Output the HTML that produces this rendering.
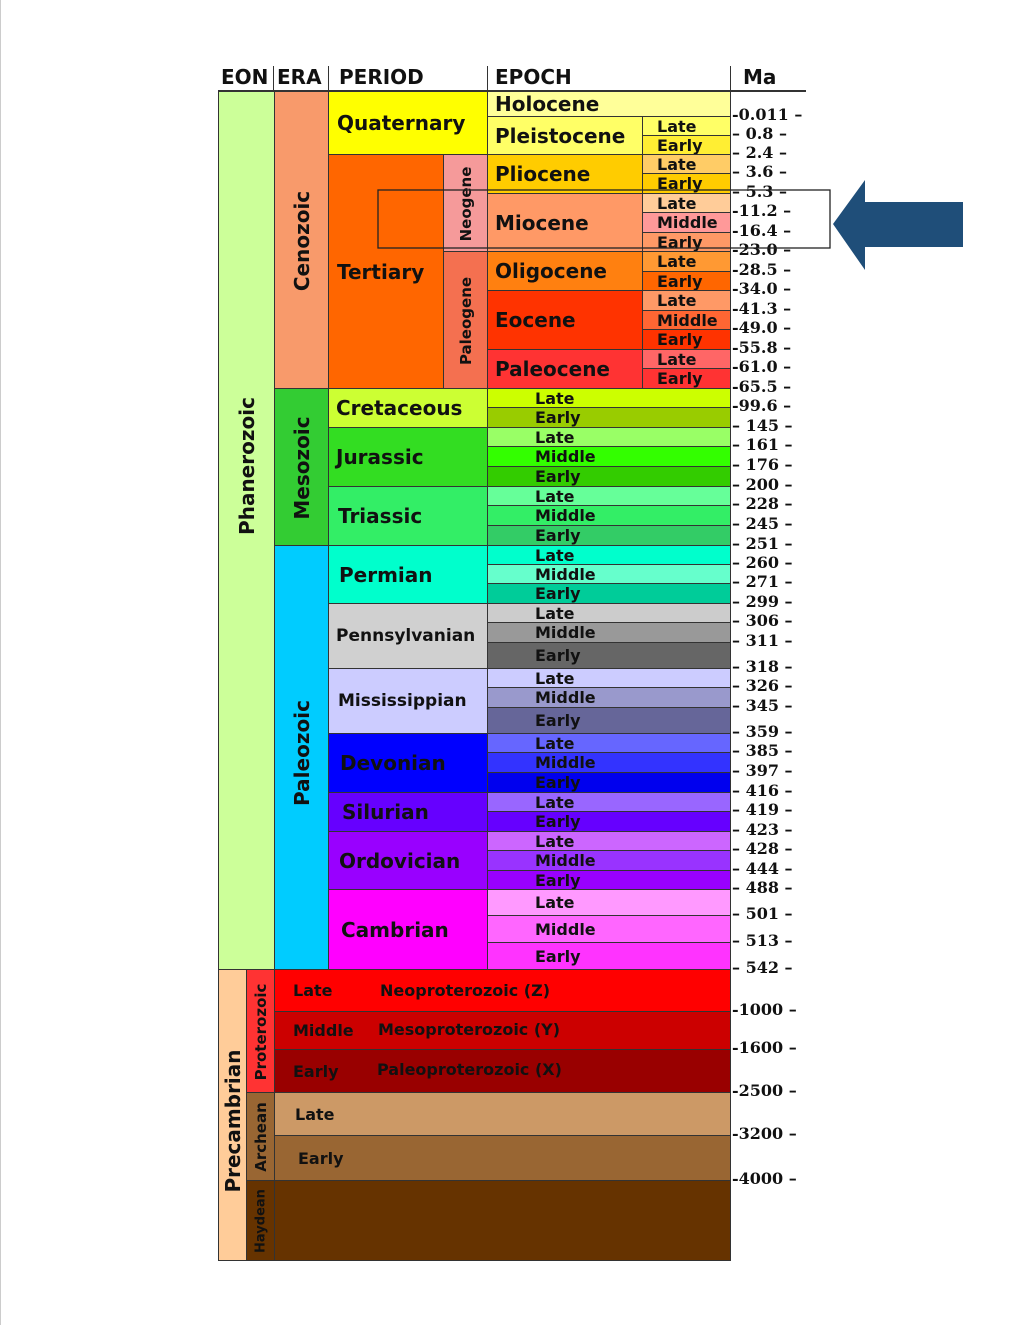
<!DOCTYPE html>
<html><head><meta charset="utf-8">
<style>
body{margin:0;background:#fff;width:1024px;height:1325px;position:relative;overflow:hidden;font-family:"DejaVu Sans","Liberation Sans",sans-serif;}
.b{position:absolute;box-sizing:border-box;border:1px solid #333;font-weight:bold;color:#111;white-space:nowrap;overflow:visible;}
.t{position:absolute;font-weight:bold;white-space:nowrap;color:#111;}
.v{position:absolute;font-weight:bold;white-space:nowrap;transform:translate(-50%,-50%) rotate(-90deg);color:#111;}
</style></head><body>
<div style="position:absolute;left:0;top:0;width:1px;height:1325px;background:#ccc"></div>
<div id="c"></div>
<svg width="1024" height="1325" style="position:absolute;left:0;top:0">
<line x1="218" y1="91" x2="806" y2="91" stroke="#333" stroke-width="2"/>
<rect x="378" y="190" width="452" height="58" fill="none" stroke="#222" stroke-width="1.3"/>
<polygon points="833,224 865,180 865,202 963,202 963,247 865,247 865,270" fill="#1f4e79"/>
</svg>
<script>
const maLabels=["0.011","0.8","2.4","3.6","5.3","11.2","16.4","23.0","28.5","34.0","41.3","49.0","55.8","61.0","65.5","99.6","145","161","176","200","228","245","251","260","271","299","306","311","318","326","345","359","385","397","416","419","423","428","444","488","501","513","542","1000","1600","2500","3200","4000"];
const maY=[116,135,154,173,193,212,232,251,271,290,310,329,349,368,388,407,427,446,466,486,505,525,545,564,583,603,622,642,668,687,707,733,752,772,792,811,831,850,870,889,915,942,969,1011,1049,1092,1135,1180];
// boxes: x1,y1,x2,y2,color,label,fontSize,textX offset,vertical,vertical-shift
const boxes=[
[218,91,274,969,"#ccff99","Phanerozoic",20,0,1,-65],
[274,91,328,388,"#f89a6b","Cenozoic",20,0,1,0],
[274,388,328,545,"#33cc33","Mesozoic",20,0,1,0],
[274,545,328,969,"#00ccff","Paleozoic",20,0,1,-5],
[328,91,487,154,"#ffff00","Quaternary",20,8,0],
[328,154,443,388,"#ff6600","Tertiary",20,8,0],
[443,154,487,251,"#f59a9a","Neogene",15,0,1,0],
[443,251,487,388,"#f47050","Paleogene",15,0,1,0],
[487,91,730,116,"#ffff99","Holocene",20,7,0],
[487,116,642,154,"#ffff66","Pleistocene",20,7,0],
[487,154,642,193,"#ffcc00","Pliocene",20,7,0],
[487,193,642,251,"#ff9966","Miocene",20,7,0],
[487,251,642,290,"#ff8010","Oligocene",20,7,0],
[487,290,642,349,"#ff3300","Eocene",20,7,0],
[487,349,642,388,"#ff3333","Paleocene",20,7,0],
[642,116,730,135,"#ffff66","Late",16,14,0],[642,135,730,154,"#ffee33","Early",16,14,0],
[642,154,730,173,"#ffcc66","Late",16,14,0],[642,173,730,193,"#ffcc00","Early",16,14,0],
[642,193,730,212,"#ffcc99","Late",16,14,0],[642,212,730,232,"#ff9999","Middle",16,14,0],[642,232,730,251,"#ff9966","Early",16,14,0],
[642,251,730,271,"#ff9933","Late",16,14,0],[642,271,730,290,"#ff6600","Early",16,14,0],
[642,290,730,310,"#ff9966","Late",16,14,0],[642,310,730,329,"#ff6633","Middle",16,14,0],[642,329,730,349,"#ff3300","Early",16,14,0],
[642,349,730,368,"#ff6666","Late",16,14,0],[642,368,730,388,"#ff3333","Early",16,14,0],
[328,388,487,427,"#ccff33","Cretaceous",20,7,0],
[328,427,487,486,"#33dd22","Jurassic",20,7,0],
[328,486,487,545,"#33ee66","Triassic",20,9,0],
[328,545,487,603,"#00ffcc","Permian",20,10,0],
[328,603,487,668,"#d0d0d0","Pennsylvanian",17,7,0],
[328,668,487,733,"#ccccff","Mississippian",17,9,0],
[328,733,487,792,"#0000ff","Devonian",20,11,0],
[328,792,487,831,"#6600ff","Silurian",20,13,0],
[328,831,487,889,"#9900ff","Ordovician",20,10,0],
[328,889,487,969,"#ff00ff","Cambrian",20,12,0]
];
const subColors=["#ccff00","#99cc00","#99ff66","#33ff00","#33cc00","#66ff99","#33ee66","#33cc66","#00ffcc","#66ffcc","#00cc99","#cccccc","#999999","#666666","#ccccff","#9999cc","#666699","#6666ff","#3333ff","#0000ee","#9966ff","#6600ff","#cc66ff","#9933ff","#9900ff","#ff99ff","#ff66ff","#ff33ff"];
const subIdx=[14,15,16,17,18,19,20,21,22,23,24,25,26,27,28,29,30,31,32,33,34,35,36,37,38,39,40,41];
const subLbl=["Late","Early","Late","Middle","Early","Late","Middle","Early","Late","Middle","Early","Late","Middle","Early","Late","Middle","Early","Late","Middle","Early","Late","Early","Late","Middle","Early","Late","Middle","Early"];
subIdx.forEach((k,i)=>boxes.push([487,maY[k],730,maY[k+1],subColors[i],subLbl[i],16,47,0]));
const pre=[
[218,969,246,1260,"#ffcc99","Precambrian",20,0,1,5],
[246,969,274,1092,"#ff3333","Proterozoic",15,0,1,0],
[246,1092,274,1180,"#996633","Archean",15,0,1,0],
[246,1180,274,1260,"#663300","Haydean",13,0,1,0],
[274,969,730,1011,"#ff0000","Late",16,18,0],
[274,1011,730,1049,"#cc0000","Middle",16,18,0],
[274,1049,730,1092,"#990000","Early",16,18,0],
[274,1092,730,1135,"#cc9966","Late",16,20,0],
[274,1135,730,1180,"#996633","Early",16,23,0],
[274,1180,730,1260,"#663300","",16,0,0]
];
pre.forEach(p=>boxes.push(p));
const c=document.getElementById('c');
boxes.forEach(b=>{
 const d=document.createElement('div');d.className='b';
 
 
 d.style.cssText=`left:${b[0]}px;top:${b[1]}px;width:${b[2]-b[0]+1}px;height:${b[3]-b[1]+1}px;background:${b[4]}`;
 const s=document.createElement('span');
 s.textContent=b[5];s.style.fontSize=b[6]+'px';
 if(b[8]){s.className='v';s.style.left=((b[2]-b[0])/2)+'px';s.style.top=((b[3]-b[1])/2+(b[9]||0))+'px';}
 else{s.className='t';s.style.left=b[7]+'px';s.style.top=((b[3]-b[1])/2-b[6]*0.62)+'px';}
 d.appendChild(s);c.appendChild(d);
});
const ext=[[380,"Neoproterozoic  (Z)",981],[378,"Mesoproterozoic (Y)",1020],[377,"Paleoproterozoic (X)",1060]];
ext.forEach(e=>{const s=document.createElement('div');s.className='t';s.style.cssText=`left:${e[0]}px;top:${e[2]}px;font-size:16px`;s.textContent=e[1];


c.appendChild(s);});
const hdr=[["EON",221],["ERA",277],["PERIOD",339],["EPOCH",495],["Ma",743]];
hdr.forEach(h=>{const s=document.createElement('div');s.className='t';s.style.cssText=`left:${h[1]}px;top:65px;font-size:20px`;s.textContent=h[0];


c.appendChild(s);});
[[273,66,91],[328,66,91],[487,66,91],[730,66,1260]].forEach(l=>{const d=document.createElement('div');d.style.cssText=`position:absolute;left:${l[0]}px;top:${l[1]}px;width:1px;height:${l[2]-l[1]}px;background:#333`;


c.appendChild(d);});
maLabels.forEach((m,i)=>{
 const s=document.createElement('div');s.className='t';
 
 
 s.style.cssText=`left:732px;top:${maY[i]-11}px;font-family:"DejaVu Serif","Liberation Serif",serif;font-size:16px;font-weight:bold`;
 s.textContent=(m.length>=4?'-':'– ')+m+' –';
 c.appendChild(s);
});
</script>
</body></html>
